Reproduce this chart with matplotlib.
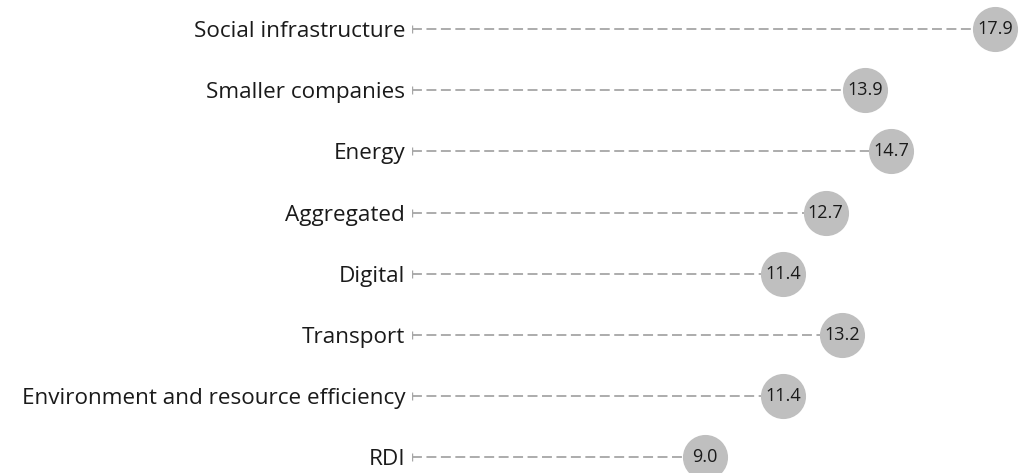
import matplotlib.pyplot as plt

categories = ['Social infrastructure', 'Smaller companies', 'Energy', 'Aggregated',
              'Digital', 'Transport', 'Environment and resource efficiency', 'RDI']
values = [17.9, 13.9, 14.7, 12.7, 11.4, 13.2, 11.4, 9.0]

plt.rcParams['font.family'] = ['Open Sans', 'DejaVu Sans']

fig = plt.figure(figsize=(10.36, 4.73), dpi=100)
ax = fig.add_axes([412 / 1036, 0, 1 - 412 / 1036, 1])

ypos = list(range(len(categories)))
for y, v in zip(ypos, values):
    ax.plot([0, v], [y, y], color='#a6a6a6', linewidth=1.3,
            linestyle=(0, (5.5, 2.5)), zorder=1)
    ax.plot([0], [y], marker='|', color='#a6a6a6', markersize=6,
            markeredgewidth=1, zorder=1)
ax.scatter(values, ypos, s=990, color='#bfbfbf', zorder=2, clip_on=True)
for y, v in zip(ypos, values):
    ax.text(v, y, f'{v:.1f}', ha='center', va='center', fontsize=13,
            color='#1a1a1a', zorder=3)

ax.set_xlim(0, (1036 - 412) / 32.58)
ax.set_ylim(7.255, -0.474)
ax.set_yticks(ypos)
ax.set_yticklabels(categories, fontsize=16.2, color='#1a1a1a')
ax.tick_params(axis='y', length=0, pad=5)
ax.set_xticks([])
for s in ax.spines.values():
    s.set_visible(False)

fig.savefig('out.png', dpi=100)
